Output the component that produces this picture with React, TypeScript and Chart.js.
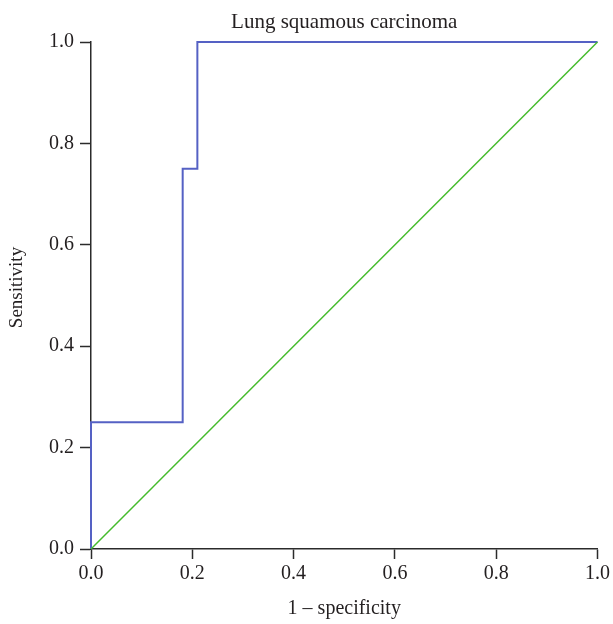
import React, { useEffect, useRef } from "react";
import { Chart, registerables } from "chart.js";

Chart.register(...registerables);

const TITLE = "Lung squamous carcinoma";
const X_LABEL = "1 – specificity";
const Y_LABEL = "Sensitivity";

// ROC curve (false positive rate vs true positive rate)
const rocFpr = [0, 0, 0.181, 0.181, 0.21, 0.21, 1];
const rocTpr = [0, 0.25, 0.25, 0.75, 0.75, 1, 1];

// reference diagonal
const diagX = [0, 1];
const diagY = [0, 1];

const tickValues = [0, 0.2, 0.4, 0.6, 0.8, 1.0];

const FONT = '"Liberation Serif", "Times New Roman", serif';
const TEXT_COLOR = "#231f20";
const AXIS_COLOR = "#2b2b2b";
const BLUE = "#5561c4";
const GREEN = "#45bb2c";

export default function App() {
  const ref = useRef<HTMLCanvasElement>(null);

  useEffect(() => {
    if (!ref.current) return;
    const textPlugin = {
      id: "extraText",
      afterDraw(chart: any) {
        const { ctx, chartArea } = chart;
        ctx.save();
        ctx.font = `21px ${FONT}`;
        ctx.fillStyle = TEXT_COLOR;
        ctx.textAlign = "center";
        ctx.textBaseline = "alphabetic";
        ctx.fillText(TITLE, (chartArea.left + chartArea.right) / 2, 28);
        ctx.restore();

        ctx.save();
        ctx.font = `19px ${FONT}`;
        ctx.fillStyle = TEXT_COLOR;
        ctx.textAlign = "center";
        ctx.textBaseline = "middle";
        ctx.translate(17, (chartArea.top + chartArea.bottom) / 2 - 8);
        ctx.rotate(-Math.PI / 2);
        ctx.fillText(Y_LABEL, 0, 0);
        ctx.restore();
      },
    };

    const chart = new Chart(ref.current, {
      type: "scatter",
      data: {
        datasets: [
          {
            data: diagX.map((x, i) => ({ x, y: diagY[i] })),
            borderColor: GREEN,
            borderWidth: 1.5,
            showLine: true,
            pointRadius: 0,
            tension: 0,
            clip: false,
          },
          {
            data: rocFpr.map((x, i) => ({ x, y: rocTpr[i] })),
            borderColor: BLUE,
            borderWidth: 2,
            showLine: true,
            pointRadius: 0,
            tension: 0,
            borderJoinStyle: "miter",
            clip: false,
          },
        ],
      },
      options: {
        responsive: false,
        animation: false,
        devicePixelRatio: 1,
        layout: { padding: { top: 42, right: 15, left: 0, bottom: 0 } },
        plugins: {
          legend: { display: false },
          tooltip: { enabled: false },
          title: { display: false },
        },
        scales: {
          x: {
            type: "linear",
            min: 0,
            max: 1,
            afterBuildTicks: (s: any) => {
              s.ticks = tickValues.map((v) => ({ value: v }));
            },
            ticks: {
              callback: (v: any) => Number(v).toFixed(1),
              font: { family: FONT, size: 20 },
              color: TEXT_COLOR,
              padding: 3,
              maxRotation: 0,
              autoSkip: false,
            },
            grid: {
              drawOnChartArea: false,
              drawTicks: true,
              tickLength: 10,
              tickColor: AXIS_COLOR,
              tickWidth: 1.5,
            },
            border: { display: true, color: AXIS_COLOR, width: 1.5 },
            title: {
              display: true,
              text: X_LABEL,
              font: { family: FONT, size: 20 },
              color: TEXT_COLOR,
              padding: { top: 0, bottom: 3 },
            },
            afterFit: (s: any) => {
              s.height = 75;
            },
          },
          y: {
            type: "linear",
            min: 0,
            max: 1,
            afterBuildTicks: (s: any) => {
              s.ticks = tickValues.map((v) => ({ value: v }));
            },
            ticks: {
              callback: (v: any) => Number(v).toFixed(1),
              font: { family: FONT, size: 20 },
              color: TEXT_COLOR,
              padding: 6,
              autoSkip: false,
            },
            grid: {
              drawOnChartArea: false,
              drawTicks: true,
              tickLength: 11,
              tickColor: AXIS_COLOR,
              tickWidth: 1.5,
            },
            border: { display: true, color: AXIS_COLOR, width: 1.5 },
            title: { display: false },
            afterFit: (s: any) => {
              s.width = 91;
            },
          },
        },
      } as any,
      plugins: [textPlugin],
    });
    return () => chart.destroy();
  }, []);

  return (
    <div style={{ position: "absolute", left: 0, top: 0, width: 613, height: 624 }}>
      <canvas ref={ref} width={613} height={624} style={{ display: "block" }} />
    </div>
  );
}
